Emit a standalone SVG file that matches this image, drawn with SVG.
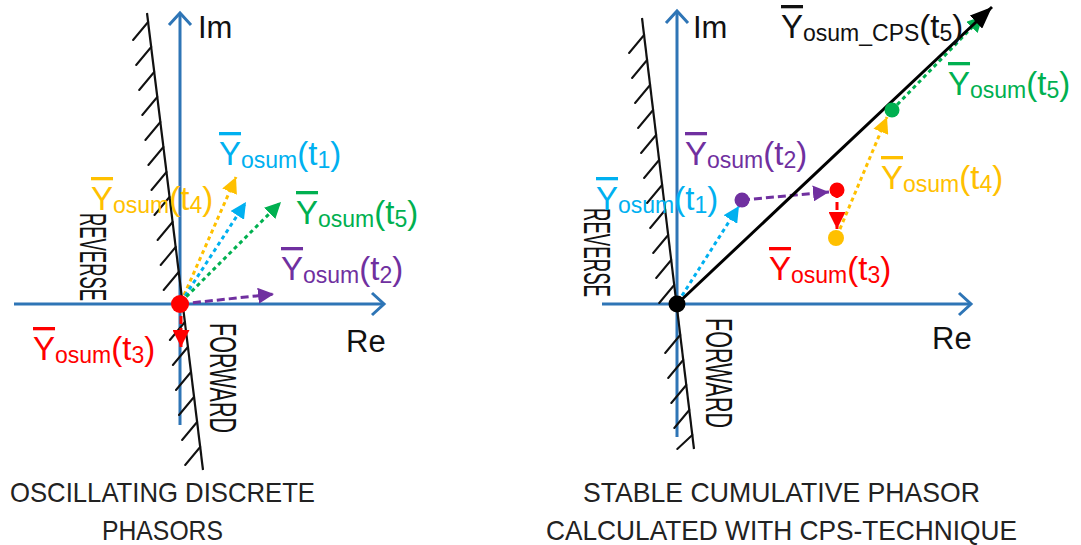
<svg xmlns="http://www.w3.org/2000/svg" width="1081" height="545" viewBox="0 0 1081 545">
<style>
.ax{stroke:#2e75b6;stroke-width:3;fill:none}
.hl{stroke:#111;stroke-width:2.2;fill:none}
.ht{stroke:#111;stroke-width:2;fill:none;stroke-linecap:round}
.dot{stroke-dasharray:4 3.5;stroke-width:3;fill:none}
.dash{stroke-dasharray:8 4;stroke-width:3;fill:none}
.lb{font-family:"Liberation Sans",Arial,sans-serif;font-size:33px}
.sb{font-size:23px}
.ax-t{font-family:"Liberation Sans",Arial,sans-serif;font-size:31px;fill:#111}
.rot{font-family:"Liberation Sans",Arial,sans-serif;font-size:36px;fill:#111}
.cap{font-family:"Liberation Sans",Arial,sans-serif;font-size:27.5px;fill:#222}
</style>
<defs>
<marker id="a-y" viewBox="0 0 16 16" refX="16" refY="8" markerWidth="16" markerHeight="16" markerUnits="userSpaceOnUse" orient="auto"><path d="M0,0 L16,8 L0,16 z" fill="#ffc000"/></marker>
<marker id="a-c" viewBox="0 0 16 16" refX="16" refY="8" markerWidth="16" markerHeight="16" markerUnits="userSpaceOnUse" orient="auto"><path d="M0,0 L16,8 L0,16 z" fill="#00b0f0"/></marker>
<marker id="a-g" viewBox="0 0 16 16" refX="16" refY="8" markerWidth="16" markerHeight="16" markerUnits="userSpaceOnUse" orient="auto"><path d="M0,0 L16,8 L0,16 z" fill="#00b050"/></marker>
<marker id="a-p" viewBox="0 0 16 16" refX="16" refY="8" markerWidth="16" markerHeight="16" markerUnits="userSpaceOnUse" orient="auto"><path d="M0,0 L16,8 L0,16 z" fill="#7030a0"/></marker>
<marker id="a-r" viewBox="0 0 16 16" refX="16" refY="8" markerWidth="17" markerHeight="17" markerUnits="userSpaceOnUse" orient="auto"><path d="M0,0 L16,8 L0,16 z" fill="#ff0000"/></marker>
<marker id="a-k" viewBox="0 0 22 18" refX="22" refY="9" markerWidth="22" markerHeight="18" markerUnits="userSpaceOnUse" orient="auto"><path d="M0,0 L22,9 L0,18 z" fill="#000"/></marker>
</defs>
<rect width="1081" height="545" fill="#fff"/>

<g id="left-panel">
  <g id="left-axes">
    <line class="ax" x1="180" y1="425" x2="180" y2="13"/>
    <polyline class="ax" points="169,25 180,13 191,25"/>
    <line class="ax" x1="14" y1="304" x2="384" y2="304"/>
    <polyline class="ax" points="372,293 384,304 372,315"/>
    <text class="ax-t" x="198" y="38">Im</text>
    <text class="ax-t" x="346" y="352">Re</text>
  </g>
  <g id="left-boundary">
    <line class="hl" x1="147" y1="13" x2="203" y2="470"/>
    <path class="ht" d="M148.1,22 l-15,18 M151.2,47 l-15,18 M154.2,72 l-15,18 M157.3,97 l-15,18 M160.4,122 l-15,18 M163.4,147 l-15,18 M166.5,172 l-15,18 M169.5,197 l-15,18 M172.6,222 l-15,18 M175.7,247 l-15,18 M178.7,272 l-15,18 M184.9,322 l-15,18 M187.9,347 l-15,18 M191,372 l-15,18 M194,397 l-15,18 M197.1,422 l-15,18 M200.2,447 l-15,18"/>
    <text class="rot" transform="translate(80,213) rotate(90)" textLength="88" lengthAdjust="spacingAndGlyphs">REVERSE</text>
    <text class="rot" transform="translate(210,323) rotate(90)" textLength="110" lengthAdjust="spacingAndGlyphs">FORWARD</text>
  </g>
  <g id="left-connectors">
    <line class="dot" stroke="#ffc000" x1="181" y1="302" x2="236" y2="177" marker-end="url(#a-y)"/>
    <line class="dot" stroke="#00b0f0" x1="181" y1="302" x2="246" y2="202" marker-end="url(#a-c)"/>
    <line class="dot" stroke="#00b050" x1="181" y1="302" x2="281" y2="202" marker-end="url(#a-g)"/>
    <line class="dash" stroke="#7030a0" x1="181" y1="304" x2="274" y2="294" marker-end="url(#a-p)"/>
    <line class="dash" stroke="#ff0000" x1="181" y1="304" x2="181" y2="347" marker-end="url(#a-r)"/>
  </g>
  <g id="left-origin"><circle cx="180" cy="304" r="9" fill="#ff0000"/></g>
  <g id="left-labels">
    <text class="lb" x="219" y="165" fill="#00b0f0"><tspan text-decoration="overline">Y</tspan><tspan class="sb" dy="3">osum</tspan><tspan dy="-3">(t</tspan><tspan class="sb" dy="3">1</tspan><tspan dy="-3">)</tspan></text>
    <text class="lb" x="91" y="210" fill="#ffc000"><tspan text-decoration="overline">Y</tspan><tspan class="sb" dy="3">osum</tspan><tspan dy="-3">(t</tspan><tspan class="sb" dy="3">4</tspan><tspan dy="-3">)</tspan></text>
    <text class="lb" x="296" y="224" fill="#00b050"><tspan text-decoration="overline">Y</tspan><tspan class="sb" dy="3">osum</tspan><tspan dy="-3">(t</tspan><tspan class="sb" dy="3">5</tspan><tspan dy="-3">)</tspan></text>
    <text class="lb" x="281" y="280" fill="#7030a0"><tspan text-decoration="overline">Y</tspan><tspan class="sb" dy="3">osum</tspan><tspan dy="-3">(t</tspan><tspan class="sb" dy="3">2</tspan><tspan dy="-3">)</tspan></text>
    <text class="lb" x="33" y="360" fill="#ff0000"><tspan text-decoration="overline">Y</tspan><tspan class="sb" dy="3">osum</tspan><tspan dy="-3">(t</tspan><tspan class="sb" dy="3">3</tspan><tspan dy="-3">)</tspan></text>
  </g>
  <g id="left-caption">
    <text class="cap" x="10" y="502" textLength="305" lengthAdjust="spacingAndGlyphs">OSCILLATING DISCRETE</text>
    <text class="cap" x="102" y="540" textLength="121" lengthAdjust="spacingAndGlyphs">PHASORS</text>
  </g>
</g>

<g id="right-panel">
  <g id="right-axes">
    <line class="ax" x1="677" y1="437" x2="677" y2="11"/>
    <polyline class="ax" points="666,23 677,11 688,23"/>
    <line class="ax" x1="602" y1="304" x2="971" y2="304"/>
    <polyline class="ax" points="959,293 971,304 959,315"/>
    <text class="ax-t" x="693" y="38">Im</text>
    <text class="ax-t" x="932" y="349">Re</text>
  </g>
  <g id="right-boundary">
    <line class="hl" x1="642" y1="18" x2="694" y2="449"/>
    <path class="ht" d="M644.1,35 l-15,18 M647.1,60 l-15,18 M650.1,85 l-15,18 M653.1,110 l-15,18 M656.1,135 l-15,18 M659.1,160 l-15,18 M662.1,185 l-15,18 M665.2,210 l-15,18 M668.2,235 l-15,18 M671.2,260 l-15,18 M674.2,285 l-15,18 M680.2,335 l-15,18 M683.2,360 l-15,18 M686.3,385 l-15,18 M689.3,410 l-15,18 M692.3,435 l-15,14"/>
    <text class="rot" transform="translate(584,208) rotate(90)" textLength="89" lengthAdjust="spacingAndGlyphs">REVERSE</text>
    <text class="rot" transform="translate(706,318) rotate(90)" textLength="110" lengthAdjust="spacingAndGlyphs">FORWARD</text>
  </g>
  <g id="right-connectors">
    <line class="dot" stroke="#00b0f0" x1="678" y1="302" x2="739" y2="206" marker-end="url(#a-c)"/>
    <line class="dash" stroke="#7030a0" x1="742" y1="200" x2="829" y2="192" marker-end="url(#a-p)"/>
    <line class="dash" stroke="#ff0000" x1="837" y1="190" x2="837" y2="229" marker-end="url(#a-r)"/>
    <line class="dot" stroke="#ffc000" x1="837" y1="236" x2="887" y2="117" marker-end="url(#a-y)"/>
    <line class="dot" stroke="#00b050" x1="892" y1="110" x2="983" y2="16" marker-end="url(#a-g)"/>
    <line stroke="#000" stroke-width="3" x1="677" y1="304" x2="992" y2="7" marker-end="url(#a-k)"/>
  </g>
  <g id="right-points">
    <circle cx="677" cy="304" r="8.5" fill="#000"/>
    <circle cx="742" cy="200" r="7.5" fill="#7030a0"/>
    <circle cx="837" cy="190" r="7.5" fill="#ff0000"/>
    <circle cx="836" cy="238" r="8" fill="#ffc000"/>
    <circle cx="892" cy="110" r="7.5" fill="#00b050"/>
  </g>
  <g id="right-labels">
    <text class="lb" x="781" y="38" fill="#111"><tspan text-decoration="overline">Y</tspan><tspan class="sb" dy="3" font-size="21">osum_CPS</tspan><tspan dy="-3">(t</tspan><tspan class="sb" dy="3">5</tspan><tspan dy="-3">)</tspan></text>
    <text class="lb" x="948" y="95" fill="#00b050"><tspan text-decoration="overline">Y</tspan><tspan class="sb" dy="3">osum</tspan><tspan dy="-3">(t</tspan><tspan class="sb" dy="3">5</tspan><tspan dy="-3">)</tspan></text>
    <text class="lb" x="685" y="165" fill="#7030a0"><tspan text-decoration="overline">Y</tspan><tspan class="sb" dy="3">osum</tspan><tspan dy="-3">(t</tspan><tspan class="sb" dy="3">2</tspan><tspan dy="-3">)</tspan></text>
    <text class="lb" x="881" y="189" fill="#ffc000"><tspan text-decoration="overline">Y</tspan><tspan class="sb" dy="3">osum</tspan><tspan dy="-3">(t</tspan><tspan class="sb" dy="3">4</tspan><tspan dy="-3">)</tspan></text>
    <text class="lb" x="596" y="210" fill="#00b0f0"><tspan text-decoration="overline">Y</tspan><tspan class="sb" dy="3">osum</tspan><tspan dy="-3">(t</tspan><tspan class="sb" dy="3">1</tspan><tspan dy="-3">)</tspan></text>
    <text class="lb" x="769" y="280" fill="#ff0000"><tspan text-decoration="overline">Y</tspan><tspan class="sb" dy="3">osum</tspan><tspan dy="-3">(t</tspan><tspan class="sb" dy="3">3</tspan><tspan dy="-3">)</tspan></text>
  </g>
  <g id="right-caption">
    <text class="cap" x="583" y="502" textLength="397" lengthAdjust="spacingAndGlyphs">STABLE CUMULATIVE PHASOR</text>
    <text class="cap" x="546" y="540" textLength="471" lengthAdjust="spacingAndGlyphs">CALCULATED WITH CPS-TECHNIQUE</text>
  </g>
</g>
</svg>
